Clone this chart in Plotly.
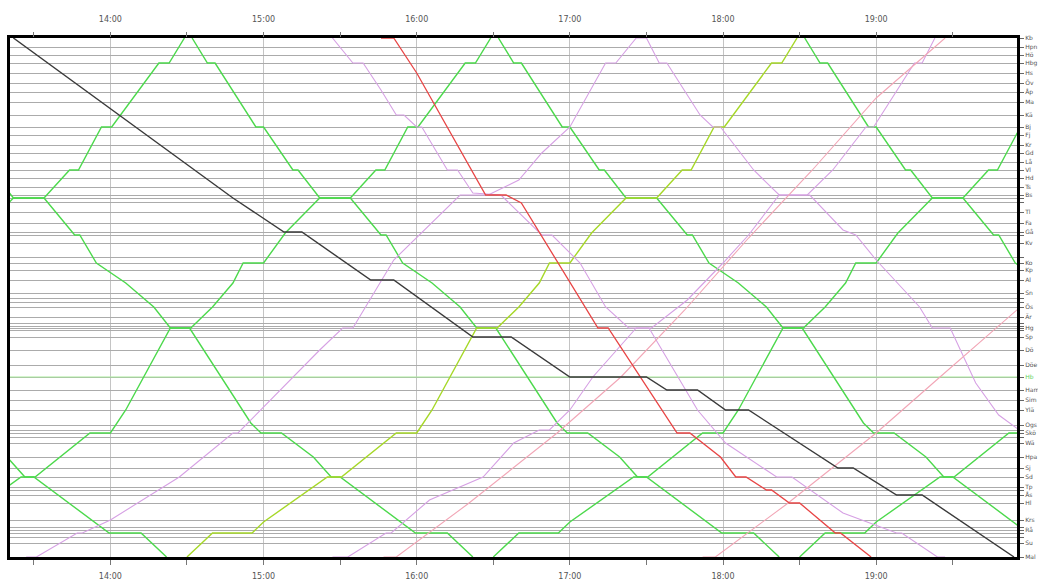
import plotly.graph_objects as go
from datetime import datetime, timedelta

DAY = "2024-05-06"

# ---------------- stations (km from the top station) ----------------
station_km = [0, 4.5, 8.5, 12.5, 17.5, 22.5, 27, 32, 38.5, 44.5, 48.5, 53.5, 57.5, 62, 66, 70,
              74.5, 78.5, 80, 82, 87, 92.5, 97, 98.5, 102.5, 109.5, 112.5, 116, 121, 127.5, 130,
              132, 134.5, 139.5, 142.5, 144, 145, 146, 149.5, 156, 163.5, 169.5, 176, 181, 186,
              193.5, 196, 197.5, 199.5, 202.5, 209.5, 215, 219.5, 224.5, 226, 228.5, 232.5, 241,
              244.5, 246, 247.5, 249.5, 252.5, 259.5]
# timing points without a printed name are left blank
station_names = ["Kb", "Hpn", "Hö", "Hbg", "Hs", "Öv", "Åp", "Ma", "Kä", "Bj", "Fj", "Kr", "Gd",
                 "Lå", "Vl", "Hd", "Ts", "Bs", "", "", "Tl", "Fa", "Gå", "", "Kv", "",
                 "Ko", "Kp", "Al", "Sn", "", "", "Ös", "Är", "", "", "Hg", "", "Sp",
                 "Dö", "Döe", "Hb", "Ham", "Sim", "Ylä", "Ogs", "", "Skö", "", "Wä", "Hpa",
                 "Sj", "Sd", "Tp", "", "Ås", "Hl", "Krs", "", "Rå", "", "", "Su", "Mal"]
highlight_km = 169.5
highlight_name = "Hb"

hour_ticks = ["14:00", "15:00", "16:00", "17:00", "18:00", "19:00"]
half_ticks = ["13:30", "14:30", "15:30", "16:30", "17:30", "18:30", "19:30"]
x_start, x_end = "13:20:40", "19:55:10"

# ---------------- regular (green) clock-face services ----------------
green_down_departures = ["10:32", "12:32", "14:32", "16:32", "18:32"]
green_down_offsets = [0, 6, 9, 25, 28, 39.5, 41.5, 50, 62, 74, 76, 82.5, 94, 105, 111.5, 119,
                      143, 147, 155, 167.5, 174.5, 178, 207.5, 220, 230]
green_down_km = [0, 12.5, 12.5, 44.5, 44.5, 66, 66, 80, 80, 98.5, 98.5, 112.5, 122.5, 134.5,
                 145, 145, 192.5, 197.5, 197.5, 209.5, 219.5, 219.5, 247.5, 247.5, 259.5]

green_up_departures = ["10:30", "12:30", "16:30", "18:30"]
yellow_up_departures = ["14:30"]
green_up_offsets = [0, 10, 25.5, 30, 55, 60.5, 82, 90, 96, 113.5, 121.5, 130, 138, 142, 150,
                    158.5, 172, 184, 194, 197.5, 206.5, 210.5, 229, 233, 239]
green_up_km = [259.5, 247.5, 247.5, 242, 219.5, 219.5, 197.5, 197.5, 186, 145, 145, 134.5,
               122.5, 112.5, 112.5, 97.5, 80, 80, 66, 66, 44.5, 44.5, 12.5, 12.5, 0]

# ---------------- individual trains ----------------
black_times = ["13:22", "14:48", "15:08", "15:15", "15:42", "15:51", "16:22", "16:37", "17:00",
               "17:30", "17:38", "17:50", "18:01", "18:10", "18:45", "18:51", "19:08", "19:18",
               "19:54"]
black_km = [0, 80, 97, 97, 121, 121, 149.5, 149.5, 169.5, 169.5, 176, 176, 186, 186, 215, 215,
            228.5, 228.5, 259.5]

red_times = ["15:46", "15:51", "16:00", "16:27", "16:35", "16:41", "17:11", "17:15", "17:42",
             "17:47", "17:59", "18:05", "18:09", "18:17", "18:19", "18:26", "18:30", "18:44",
             "18:46", "18:58"]
red_km = [0, 0, 17.5, 78.5, 78.5, 82.5, 145, 145, 197.5, 197.5, 209.5, 219.5, 219.5, 226, 226,
          232.5, 232.5, 247.5, 247.5, 259.5]

lilac1_times = ["13:27", "13:31", "13:47", "13:49", "14:00", "14:27", "14:48", "14:50", "15:22",
                "15:31", "15:35", "15:51", "16:17", "16:28", "16:40", "16:49", "17:00", "17:14",
                "17:18", "17:26", "17:30", "17:35", "17:38", "17:51", "17:56", "17:59", "18:12",
                "18:22", "18:34", "18:47", "18:52", "19:00", "19:17", "19:22", "19:29", "19:39",
                "19:48", "20:04"]
lilac1_km = [259.5, 259.5, 247.5, 247.5, 241, 219.5, 197.5, 197.5, 156, 145, 145, 111, 78.5,
             78.5, 71, 57.5, 44.5, 12.5, 12.5, 0, 0, 12.5, 12.5, 38.5, 44.5, 44.5, 66, 78.5, 78.5,
             96, 98.5, 111, 134.5, 145, 145, 172.5, 188.5, 203.5]

lilac2_times = ["15:27", "15:35", "15:39", "15:46", "15:52", "15:55", "16:00", "16:02", "16:12",
                "16:16", "16:22", "16:33", "16:49", "16:53", "17:04", "17:14", "17:23", "17:31",
                "17:50", "18:01", "18:21", "18:27", "18:47", "19:08", "19:10", "19:24", "19:27"]
lilac2_km = [0, 12.5, 12.5, 26, 38.5, 38.5, 44.5, 44.5, 66, 66, 77.5, 78.5, 98.5, 98.5, 112.5,
             134.5, 145, 145, 186, 202.5, 219.5, 219.5, 237.5, 247.5, 247.5, 259.5, 259.5]

lilac3_times = ["15:27", "15:33", "15:48", "15:50", "16:05", "16:26", "16:38", "16:48", "16:52",
                "17:00", "17:09", "17:26", "17:32", "17:46", "18:00", "18:10", "18:22", "18:33",
                "18:43", "18:56", "18:59", "19:15", "19:18", "19:23"]
lilac3_km = [259.5, 259.5, 247.5, 247.5, 231, 219.5, 202.5, 196, 196, 186, 169.5, 145, 145, 131,
             112.5, 98.5, 78.5, 78.5, 66, 44.5, 44.5, 12.5, 12.5, 0]

salmon1_times = ["15:47", "15:52", "16:20", "16:55", "17:20", "17:45", "18:10", "18:35", "19:00",
                 "19:27"]
salmon1_km = [259.5, 259.5, 233, 197.5, 169.5, 136, 100, 66, 30, 0]

salmon2_times = ["17:52", "17:57", "18:25", "19:00", "19:25", "19:55", "20:05"]
salmon2_km = [259.5, 259.5, 233, 197.5, 169.5, 136, 125]

# ---------------- colours ----------------
C_GREEN = "#4cd94c"
C_YELLOW = "#a6d828"
C_BLACK = "#3a3a3a"
C_RED = "#e84545"
C_LILAC = "#d6a0e4"
C_SALMON = "#f2a6b6"
C_HIGHLIGHT = "#a8ec9a"


def ts(hhmm):
    parts = hhmm.split(":")
    h, m = int(parts[0]), int(parts[1])
    s = int(parts[2]) if len(parts) > 2 else 0
    return datetime.strptime(DAY, "%Y-%m-%d") + timedelta(hours=h, minutes=m, seconds=s)


def shifted(dep, offsets):
    base = ts(dep)
    return [base + timedelta(minutes=o) for o in offsets]


fig = go.Figure()


def add_train(xs, ys, color, width=1.3):
    fig.add_trace(go.Scatter(x=xs, y=ys, mode="lines", line=dict(color=color, width=width),
                             hoverinfo="skip", showlegend=False))


# highlighted station line
add_train([ts("13:00"), ts("20:30")], [highlight_km, highlight_km], C_HIGHLIGHT, 1.2)

for d in green_down_departures:
    add_train(shifted(d, green_down_offsets), green_down_km, C_GREEN, 1.4)
for d in green_up_departures:
    add_train(shifted(d, green_up_offsets), green_up_km, C_GREEN, 1.4)
for d in yellow_up_departures:
    add_train(shifted(d, green_up_offsets), green_up_km, C_YELLOW, 1.4)

add_train([ts(t) for t in lilac1_times], lilac1_km, C_LILAC, 1.1)
add_train([ts(t) for t in lilac2_times], lilac2_km, C_LILAC, 1.1)
add_train([ts(t) for t in lilac3_times], lilac3_km, C_LILAC, 1.1)
add_train([ts(t) for t in salmon1_times], salmon1_km, C_SALMON, 1.1)
add_train([ts(t) for t in salmon2_times], salmon2_km, C_SALMON, 1.1)
add_train([ts(t) for t in red_times], red_km, C_RED, 1.3)
add_train([ts(t) for t in black_times], black_km, C_BLACK, 1.4)

# dummy trace for the top time axis
fig.add_trace(go.Scatter(x=[ts("14:00")], y=[0], xaxis="x2", mode="markers",
                         marker=dict(opacity=0), hoverinfo="skip", showlegend=False))

y_text = []
for km, name in zip(station_km, station_names):
    if km == highlight_km:
        y_text.append('<span style="color:%s">%s</span>' % ("#5fd35f", highlight_name))
    else:
        y_text.append(name)

xr = [ts(x_start), ts(x_end)]
tick_common = dict(
    type="date", range=xr, automargin=False,
    tickmode="array", tickvals=[ts(t) for t in hour_ticks], ticktext=hour_ticks,
    ticks="outside", ticklen=5, tickcolor="#777", tickwidth=1,
    tickfont=dict(family="DejaVu Sans", size=8, color="#555"),
    minor=dict(tickmode="array", tickvals=[ts(t) for t in half_ticks], ticks="outside",
               ticklen=5, tickcolor="#777", showgrid=False),
    zeroline=False,
)

fig.update_layout(
    width=1038, height=581,
    margin=dict(l=10, r=21, t=38, b=24),
    plot_bgcolor="white", paper_bgcolor="white",
    showlegend=False,
    xaxis=dict(**tick_common, showgrid=True, gridcolor="#c4c4c4", gridwidth=1,
               showline=True, linecolor="black", linewidth=3, mirror=True,
               ticklabelstandoff=4),
    xaxis2=dict(**tick_common, overlaying="x", side="top", anchor="y", showgrid=False,
                showline=False, ticklabelstandoff=7),
    yaxis=dict(range=[259.5, 0], tickmode="array", tickvals=station_km, ticktext=y_text,
               automargin=False,
               side="right", ticks="outside", ticklen=4, tickcolor="#666",
               tickfont=dict(family="DejaVu Sans", size=6, color="#555"),
               showgrid=True, gridcolor="#ababab", gridwidth=1,
               showline=True, linecolor="black", linewidth=3, mirror=True, zeroline=False),
)

fig.write_html("out.html")
